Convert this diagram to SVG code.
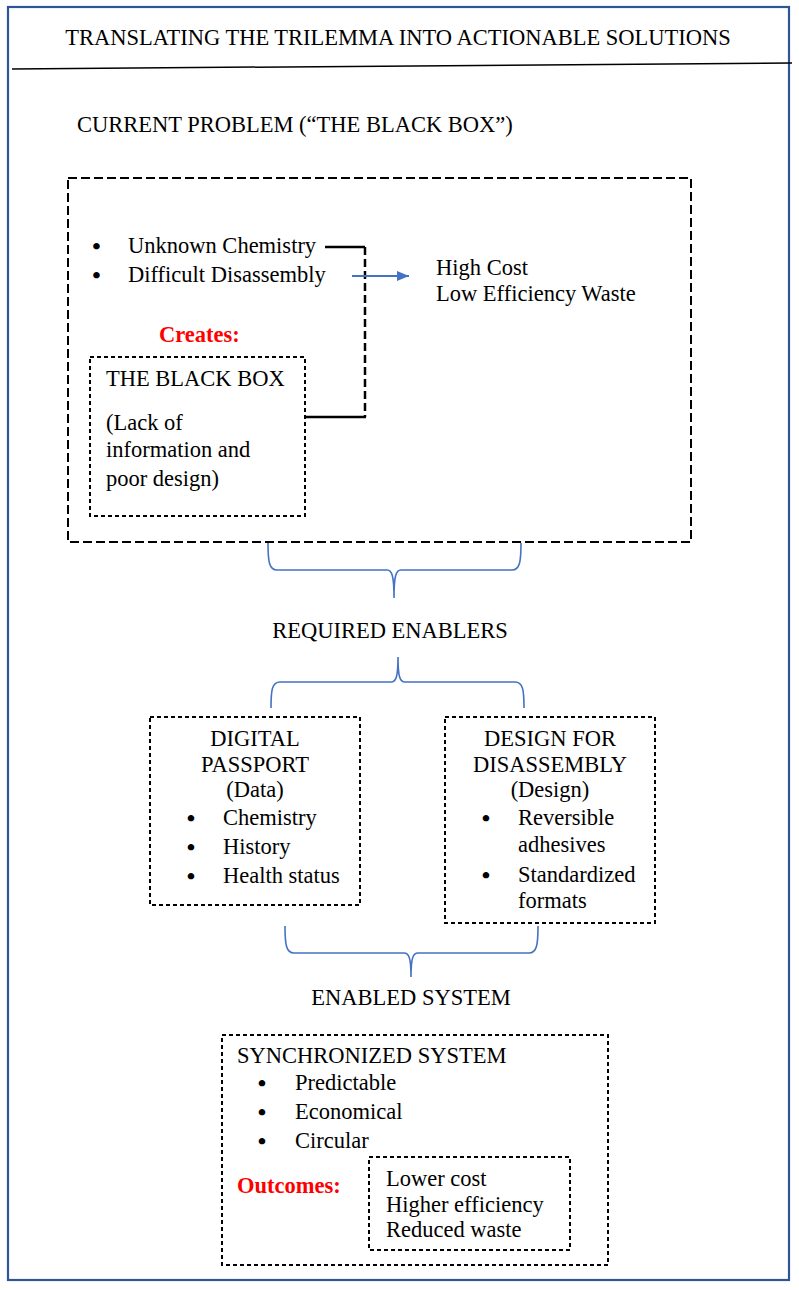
<svg xmlns="http://www.w3.org/2000/svg" width="799" height="1290" viewBox="0 0 799 1290">
<style>
  text { font-family: "Liberation Serif", "Times New Roman", serif; font-size: 22.5px; fill: #000; }
  .c { text-anchor: middle; }
  .b { font-size: 24px; font-weight: bold; text-anchor: middle; }
  .red { fill: #FF0000; font-weight: bold; }
  .bigbox { fill: none; stroke: #000; stroke-width: 2; stroke-dasharray: 9 4; }
  .box { fill: none; stroke: #000; stroke-width: 2; stroke-dasharray: 4 3; }
  .brace { fill: none; stroke: #4472C4; stroke-width: 1.6; }
  .blk { fill: none; stroke: #000; stroke-width: 2.5; }
  .blkd { fill: none; stroke: #000; stroke-width: 2.5; stroke-dasharray: 8 4; }
</style>
<defs>
  <marker id="arr" markerWidth="12" markerHeight="10" refX="12" refY="5" orient="auto" markerUnits="userSpaceOnUse">
    <path d="M0,0 L12,5 L0,10 Z" fill="#4472C4"/>
  </marker>
</defs>
<rect width="799" height="1290" fill="#fff"/>
<rect x="8" y="7" width="781" height="1273" fill="none" stroke="#2F5597" stroke-width="2.2"/>

<g id="title">
  <text class="c" x="398" y="45">TRANSLATING THE TRILEMMA INTO ACTIONABLE SOLUTIONS</text>
  <line x1="12" y1="69" x2="792" y2="63" stroke="#000" stroke-width="1.5"/>
</g>

<g id="current-problem-label">
  <text x="77" y="132">CURRENT PROBLEM (“THE BLACK BOX”)</text>
</g>

<g id="current-problem">
  <rect class="bigbox" x="68" y="178" width="623" height="364"/>
  <text class="b" x="96.5" y="254">•</text>
  <text x="128" y="253">Unknown Chemistry</text>
  <text class="b" x="96.5" y="283">•</text>
  <text x="128" y="282">Difficult Disassembly</text>
  <text class="red" x="159" y="342">Creates:</text>
</g>

<g id="outcome-problem">
  <text x="436" y="275">High Cost</text>
  <text x="436" y="301">Low Efficiency Waste</text>
</g>

<g id="black-box">
  <rect class="box" x="90" y="357" width="215" height="159"/>
  <text x="106" y="386">THE BLACK BOX</text>
  <text x="106" y="430">(Lack of</text>
  <text x="106" y="457">information and</text>
  <text x="106" y="486">poor design)</text>
</g>

<g id="connectors">
  <path class="blk" d="M325,247 L365,247"/>
  <path class="blkd" d="M365,247 L365,417"/>
  <path class="blk" d="M305,417 L366,417"/>
  <line x1="352" y1="276" x2="409" y2="276" stroke="#4472C4" stroke-width="1.8" marker-end="url(#arr)"/>
  <path class="brace" d="M268,543 C268,561 269,570 277,570 L387,570 C392,570 394,576 394,598 C394,576 396,570 401,570 L512,570 C520,570 521,561 521,543"/>
  <path class="brace" d="M271,708 C271,690 272,682 280,682 L391,682 C396,682 398,677 398,657 C398,677 400,682 405,682 L515,682 C523,682 524,690 524,708"/>
  <path class="brace" d="M285,926 C285,944 286,953 294,953 L404,953 C409,953 411,958 411,977 C411,958 413,953 418,953 L529,953 C537,953 538,944 538,926"/>
</g>

<g id="required-enablers">
  <text class="c" x="390" y="638">REQUIRED ENABLERS</text>
</g>

<g id="digital-passport">
  <rect class="box" x="150" y="717" width="210" height="188"/>
  <text class="c" x="255" y="746">DIGITAL</text>
  <text class="c" x="255" y="772">PASSPORT</text>
  <text class="c" x="255" y="797">(Data)</text>
  <text class="b" x="191" y="826">•</text>
  <text x="223" y="825">Chemistry</text>
  <text class="b" x="191" y="855">•</text>
  <text x="223" y="854">History</text>
  <text class="b" x="191" y="884">•</text>
  <text x="223" y="883">Health status</text>
</g>

<g id="design-for-disassembly">
  <rect class="box" x="445" y="717" width="210" height="206"/>
  <text class="c" x="550" y="746">DESIGN FOR</text>
  <text class="c" x="550" y="772">DISASSEMBLY</text>
  <text class="c" x="550" y="797">(Design)</text>
  <text class="b" x="486" y="826">•</text>
  <text x="518" y="825">Reversible</text>
  <text x="518" y="852">adhesives</text>
  <text class="b" x="486" y="883">•</text>
  <text x="518" y="882">Standardized</text>
  <text x="518" y="908">formats</text>
</g>

<g id="enabled-system">
  <text class="c" x="411" y="1005">ENABLED SYSTEM</text>
</g>

<g id="synchronized-system">
  <rect class="box" x="222" y="1035" width="386" height="230"/>
  <text x="237" y="1063">SYNCHRONIZED SYSTEM</text>
  <text class="b" x="262" y="1091">•</text>
  <text x="295" y="1090">Predictable</text>
  <text class="b" x="262" y="1120">•</text>
  <text x="295" y="1119">Economical</text>
  <text class="b" x="262" y="1149">•</text>
  <text x="295" y="1148">Circular</text>
  <text class="red" x="237" y="1193">Outcomes:</text>
</g>

<g id="outcomes">
  <rect class="box" x="369" y="1157" width="201" height="93"/>
  <text x="386" y="1186">Lower cost</text>
  <text x="386" y="1212">Higher efficiency</text>
  <text x="386" y="1237">Reduced waste</text>
</g>
</svg>
